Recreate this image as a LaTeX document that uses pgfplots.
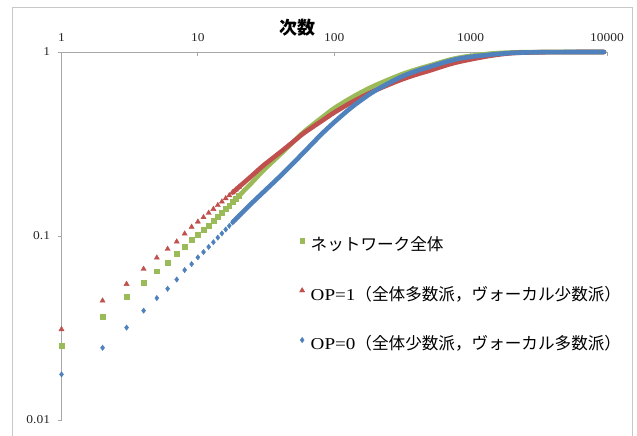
\documentclass[border=0pt]{standalone}
\usepackage{fontspec}
\setmainfont[FakeStretch=1.12]{Liberation Serif}
\newfontfamily\lat[FakeStretch=1.15]{Liberation Serif}
\newfontfamily\jp{Noto Sans CJK JP}
\usepackage{pgfplots}
\pgfplotsset{compat=1.18}
\definecolor{cgreen}{HTML}{9BBB59}
\definecolor{cred}{HTML}{C0504D}
\definecolor{cblue}{HTML}{4F81BD}
\definecolor{axgray}{HTML}{A6A6A6}
\definecolor{frgray}{HTML}{C8C8C8}
\begin{document}
\begin{tikzpicture}[x=1pt,y=1pt]
\path[use as bounding box] (0,0) rectangle (637,436);
\draw[frgray, line width=0.8pt] (12,-5) -- (12,429) -- (632,429) -- (632,-5);
\begin{axis}[
  at={(61.5pt,16pt)}, anchor=south west,
  scale only axis, width=545.5pt, height=368pt,
  xmode=log, ymode=log,
  xmin=1, xmax=10000, ymin=0.01, ymax=1,
  axis x line*=top, axis y line*=left,
  axis line style={axgray, line width=0.8pt},
  xtick={1,10,100,1000,10000}, xticklabels={1,10,100,1000,10000},
  ytick={0.01,0.1,1}, yticklabels={0.01,0.1,1},
  minor tick style={draw=none},
  tick align=outside,
  major tick length=4pt,
  tick style={axgray, line width=0.8pt},
  x tick style={yshift=-4pt},
  tick label style={font=\fontsize{12}{14}\selectfont, text=black!85},
  xticklabel style={yshift=3pt},
  yticklabel style={xshift=-4pt},
  clip=false,
  legend style={at={(0.436,0.495)}, anchor=north west, draw=none, fill=none,
    inner sep=0pt, row sep=34pt, column sep=6pt,
    font=\fontsize{16.6}{19}\selectfont,
    nodes={text height=12.5pt, text depth=3pt, inner sep=0pt}},
  legend cell align=left,
  legend image code/.code={\draw[#1] plot coordinates {(3pt,5pt)};},
]
% green: whole network
\addplot[only marks, mark=square*, mark size=2.4pt, color=cgreen, mark options={draw=none, fill=cgreen}] coordinates {
(1,0.0253)(2,0.0365)(3,0.0466)(4,0.056)(5,0.0643)(6,0.0719)(7,0.0798)(8,0.0877)(9,0.0951)(10,0.1014)
(11,0.1078)(12,0.1143)(13,0.1211)(14,0.1276)(15,0.1341)(16,0.1405)(17,0.1468)(18,0.1531)(19,0.1591)(20,0.1652)};
\addlegendentry{{\jp ネットワーク全体}}
% red: OP=1
\addplot[only marks, mark=triangle*, mark size=3pt, color=cred, mark options={draw=none, fill=cred}] coordinates {
(1,0.0311)(2,0.0445)(3,0.0548)(4,0.0662)(5,0.0762)(6,0.085)(7,0.0931)(8,0.1029)(9,0.112)(10,0.1195)
(11,0.1264)(12,0.1334)(13,0.1401)(14,0.147)(15,0.1536)(16,0.1601)(17,0.1662)(18,0.1723)(19,0.1784)(20,0.1846)};
\addlegendentry{{\lat OP=1}{\jp （全体多数派，ヴォーカル少数派）}}
% blue: OP=0
\addplot[only marks, mark=diamond*, mark size=2.7pt, color=cblue, mark options={draw=none, fill=cblue}] coordinates {
(1,0.0177)(2,0.0247)(3,0.0318)(4,0.0393)(5,0.046)(6,0.0517)(7,0.058)(8,0.0653)(9,0.0704)(10,0.0766)
(11,0.0818)(12,0.0872)(13,0.0925)(14,0.098)(15,0.1033)(16,0.1085)(17,0.1136)(18,0.1187)(19,0.1237)(20,0.1287)};
\addlegendentry{{\lat OP=0}{\jp （全体少数派，ヴォーカル多数派）}}
% dense parts (markers merged into bands)
\addplot[forget plot, cgreen, line width=4.6pt, smooth, line cap=round] coordinates {
(18,0.1531)(20,0.1652)(25,0.1957)(30,0.2261)(40,0.2765)(50,0.3243)(60,0.3687)(80,0.4366)(100,0.4949)
(130,0.5581)(160,0.6074)(200,0.6593)(300,0.7479)(400,0.8042)(500,0.8438)(700,0.907)(900,0.9417)
(1400,0.980)(2000,0.994)(3000,0.999)(5000,1.0)(9500,1.0)};
\addplot[forget plot, cred, line width=4.6pt, smooth, line cap=round] coordinates {
(18,0.1723)(20,0.1846)(25,0.2132)(30,0.2406)(40,0.2846)(50,0.3251)(60,0.3629)(80,0.4194)(100,0.4689)
(130,0.5264)(160,0.5711)(200,0.6189)(300,0.701)(400,0.7543)(500,0.7924)(700,0.8577)(900,0.8974)
(1400,0.9546)(2000,0.9856)(3000,0.996)(5000,0.999)(9500,1.0)};
\addplot[forget plot, cblue, line width=4.6pt, smooth, line cap=round] coordinates {
(18,0.1187)(20,0.1287)(25,0.1515)(30,0.1723)(40,0.211)(50,0.249)(60,0.2855)(80,0.3556)(100,0.4153)
(130,0.4915)(160,0.5521)(200,0.6169)(300,0.7251)(400,0.7895)(500,0.8307)(700,0.8945)(900,0.9314)
(1400,0.968)(2000,0.988)(3000,0.997)(5000,0.9995)(9500,1.0)};
\end{axis}
\node[font=\jp\bfseries\fontsize{18}{20}\selectfont, inner sep=0pt] at (297,408) {次数};
\end{tikzpicture}
\end{document}
